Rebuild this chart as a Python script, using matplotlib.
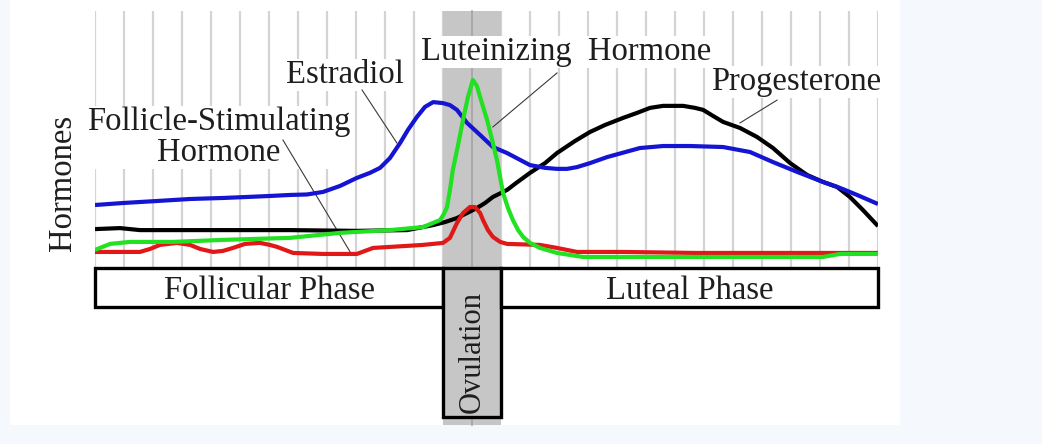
import matplotlib
matplotlib.use("Agg")
import matplotlib.pyplot as plt
from matplotlib.patches import Rectangle

# days of the cycle (grid lines)
days = list(range(1, 29))

# curves: (day, relative level)
estradiol_day = [1.00, 1.97, 3.14, 4.28, 5.41, 6.24, 7.03, 7.72, 8.31, 8.86, 9.45, 10.03, 10.48, 10.83,
                 11.17, 11.52, 11.79, 12.10, 12.38, 12.66, 13.00, 13.24, 13.48, 13.83, 14.28, 14.72,
                 15.21, 16.00, 16.52, 16.93, 17.28, 17.62, 18.07, 18.66, 19.79, 20.59, 21.52, 22.66,
                 23.59, 24.38, 25.21, 26.10, 26.69, 27.28, 28.00]
estradiol_lvl = [22.7, 23.5, 24.3, 25.1, 25.5, 25.9, 26.3, 26.7, 26.9, 27.9, 30.3, 33.5, 35.5, 37.5,
                 41.4, 47.4, 52.6, 57.8, 61.8, 63.7, 63.3, 62.5, 60.6, 55.4, 50.6, 45.8,
                 43.4, 38.6, 37.5, 37.1, 37.1, 37.8, 39.4, 41.8, 45.4, 46.2, 46.2, 45.8,
                 43.8, 39.8, 35.9, 31.9, 29.5, 26.7, 23.1]

progesterone_day = [1.00, 1.86, 2.55, 7.72, 10.03, 11.76, 12.66, 13.07, 13.48, 13.83, 14.17, 14.45,
                    14.72, 15.21, 15.48, 16.00, 16.52, 16.93, 17.55, 18.07, 18.59, 19.21, 19.69,
                    20.14, 20.59, 21.28, 21.69, 21.97, 22.31, 22.66, 23.24, 23.83, 24.38, 24.97,
                    25.55, 26.10, 26.59, 27.03, 27.48, 28.00]
progesterone_lvl = [13.1, 13.5, 12.7, 12.7, 12.4, 12.7, 14.7, 15.9, 17.5, 19.5, 21.5, 23.5,
                    25.9, 28.7, 31.1, 35.5, 39.4, 43.4, 48.2, 51.8, 54.6, 57.4, 59.4,
                    61.4, 62.2, 62.2, 61.4, 60.6, 58.2, 55.8, 53.4, 49.8, 45.4, 39.4,
                    34.7, 31.9, 29.9, 25.9, 20.7, 14.3]

lh_day = [1.00, 1.52, 2.21, 3.69, 5.41, 7.72, 9.45, 11.17, 12.31, 12.90, 13.03, 13.14, 13.24, 13.34,
          13.52, 13.69, 13.86, 14.03, 14.17, 14.28, 14.52, 14.72, 14.86, 15.07, 15.24, 15.41, 15.59,
          15.76, 16.00, 16.34, 16.93, 17.83, 21.52, 26.10, 26.69, 28.00]
lh_lvl = [4.8, 7.2, 8.0, 8.0, 8.8, 9.6, 11.6, 12.7, 13.9, 16.7, 19.1, 21.9, 28.7, 36.7,
          46.6, 56.6, 65.7, 72.5, 70.1, 65.7, 56.6, 47.4, 40.6, 27.5, 21.5, 16.7, 12.7,
          10.0, 7.6, 5.6, 3.6, 2.0, 2.0, 2.0, 3.2, 3.2]

fsh_day = [1.00, 2.55, 2.90, 3.24, 3.83, 4.28, 4.62, 5.07, 5.41, 5.76, 6.17, 6.69, 7.03, 7.28, 7.83,
           8.86, 10.03, 10.59, 11.17, 12.31, 13.00, 13.24, 13.48, 13.69, 13.93, 14.10, 14.28, 14.38,
           14.55, 14.72, 14.97, 15.21, 16.34, 16.93, 17.62, 19.21, 21.69, 28.00]
fsh_lvl = [4.0, 4.0, 5.2, 6.8, 7.6, 6.8, 5.2, 4.0, 4.4, 5.6, 7.2, 7.6, 6.8, 6.0, 3.6,
           3.2, 3.2, 5.6, 6.0, 6.8, 7.6, 9.6, 15.5, 19.5, 21.9, 21.9, 19.5, 16.7,
           12.7, 10.0, 8.0, 7.2, 6.8, 5.6, 4.0, 4.0, 3.6, 3.6]

phases = ["Follicular Phase", "Ovulation", "Luteal Phase"]
phase_start = [1, 13, 15]
phase_end = [13, 15, 28]

serif = ["Liberation Serif", "DejaVu Serif"]
txt_color = "#1e1e1e"
fs = 23.5

fig = plt.figure(figsize=(10.42, 4.44), dpi=100, facecolor="#f5f9fd")
fig.patches.append(Rectangle((10 / 1042, 1 - 425 / 444), 890 / 1042, 425 / 444,
                             transform=fig.transFigure, facecolor="white", edgecolor="none", zorder=-5))

ax = fig.add_axes([95 / 1042, 1 - 268 / 444, 783 / 1042, 257 / 444])
ax.set_facecolor("none")
ax.set_xlim(1, 28)
ax.set_ylim(-2.4, 100)
ax.axis("off")

# grid lines
for d in days:
    ax.axvline(d, color="#d4d4d4", lw=1.6, zorder=1)

# ovulation band
ax.add_patch(Rectangle((13, -64.9), 2, 164.9, facecolor="#c6c6c6", edgecolor="none",
                       zorder=2, clip_on=False))
ax.plot([14, 14], [-64.9, 100], color="#a4a4a4", lw=1.2, zorder=2, clip_on=False)

# phase boxes
for name, a, b in zip(phases, phase_start, phase_end):
    if name == "Ovulation":
        ax.add_patch(Rectangle((a, -61.8), b - a, 59.4, facecolor="#c6c6c6", edgecolor="black",
                               lw=2.4, zorder=5, clip_on=False))
        ax.text((a + b) / 2, -36.0, name, rotation=90, ha="center", va="center", fontsize=22,
                family=serif, color=txt_color, zorder=6)
    else:
        ax.add_patch(Rectangle((a, -17.9), b - a, 15.5, facecolor="white", edgecolor="black",
                               lw=2.4, zorder=5, clip_on=False))
        ax.text((a + b) / 2, -11.6, name, ha="center", va="center", fontsize=fs,
                family=serif, color=txt_color, zorder=6)

# hormone curves
kw = dict(lw=3.0, solid_joinstyle="round", solid_capstyle="butt", zorder=8)
ax.plot(progesterone_day, progesterone_lvl, color="black", **kw)
ax.plot(estradiol_day, estradiol_lvl, color="#1414d2", **kw)
ax.plot(fsh_day, fsh_lvl, color="#e01818", **kw)
ax.plot(lh_day, lh_lvl, color="#22e022", **kw)

# labels with white boxes and leader lines
box = dict(facecolor="white", edgecolor="none", pad=0.5)
ax.text(9.62, 74.5, "Estradiol", ha="center", va="center", fontsize=fs, family=serif,
        color=txt_color, bbox=box, zorder=4)
ax.text(5.26, 49.6, "Follicle-Stimulating\nHormone", ha="center", va="center", fontsize=fs,
        family=serif, color=txt_color, linespacing=1.0, bbox=box, zorder=4)
ax.text(17.26, 83.7, "Luteinizing  Hormone", ha="center", va="center", fontsize=fs, family=serif,
        color=txt_color, bbox=box, zorder=4)
ax.text(25.17, 71.7, "Progesterone", ha="center", va="center", fontsize=fs, family=serif,
        color=txt_color, bbox=box, zorder=4)

lead = dict(color="#3a3a3a", lw=0.8, zorder=7)
ax.plot([10.21, 11.41], [68.5, 47.4], **lead)
ax.plot([7.48, 9.86], [48.6, 2.8], **lead)
ax.plot([16.93, 14.72], [75.3, 53.8], **lead)
ax.plot([24.52, 23.24], [64.5, 55.4], **lead)

fig.text(63 / 1042, 1 - 183 / 444, "Hormones", rotation=90, ha="center", va="center",
         fontsize=fs, family=serif, color=txt_color)

fig.savefig("out.png", dpi=100, facecolor=fig.get_facecolor())
